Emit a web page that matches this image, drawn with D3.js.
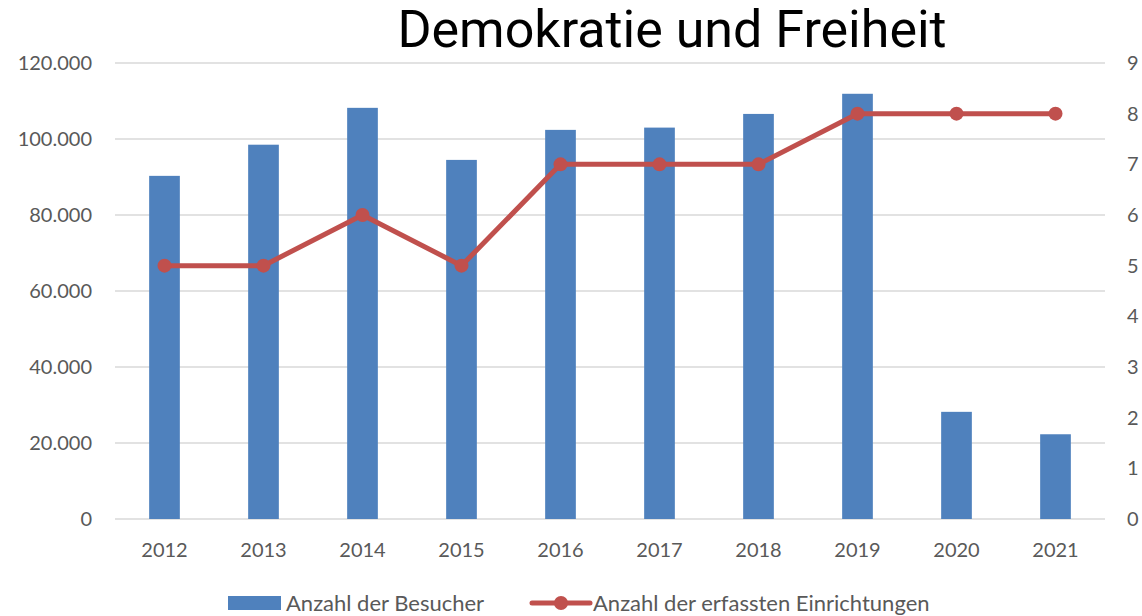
<!DOCTYPE html>
<html>
<head>
<meta charset="utf-8">
<script src="https://cdn.jsdelivr.net/npm/d3@7"></script>
<style>
  body { margin: 0; background: white; }
  svg { display: block; }
</style>
</head>
<body>
<main></main>
<script>
const years = ["2012", "2013", "2014", "2015", "2016", "2017", "2018", "2019", "2020", "2021"]
const visitors = [90300, 98500, 108200, 94500, 102400, 103000, 106600, 111900, 28200, 22300]
const facilities = [5, 5, 6, 5, 7, 7, 7, 8, 8, 8]
const leftTicks = [0, 20000, 40000, 60000, 80000, 100000, 120000]
const rightTicks = [0, 1, 2, 3, 4, 5, 6, 7, 8, 9]

const svgWidth = 1142
const svgHeight = 616

const plotLeft = 115
const plotRight = 1105
const plotTop = 63
const plotBottom = 519

const barColor = "#4f81bd"
const lineColor = "#c0504d"
const gridColor = "#d9d9d9"
const textColor = "#595959"
const font = "Lato, sans-serif"
const fontSize = "20px"

const de = d3.formatLocale({ decimal: ",", thousands: ".", grouping: [3], currency: ["", " €"] })

let svg = d3.select("main")
    .append("svg")
    .attr("width", svgWidth)
    .attr("height", svgHeight)

let xScale = d3.scaleBand()
    .domain(years)
    .range([plotLeft, plotRight])
    .paddingInner(0.69)
    .paddingOuter(0.345)

let yLeft = d3.scaleLinear()
    .domain([0, 120000])
    .range([plotBottom, plotTop])

let yRight = d3.scaleLinear()
    .domain([0, 9])
    .range([plotBottom, plotTop])

// gridlines
svg.append("g")
    .selectAll("line")
    .data(leftTicks)
    .enter()
    .append("line")
    .attr("x1", plotLeft)
    .attr("x2", plotRight)
    .attr("y1", d => yLeft(d))
    .attr("y2", d => yLeft(d))
    .attr("stroke", gridColor)
    .attr("stroke-width", 1.5)

// left axis
let leftAxis = d3.axisLeft(yLeft)
    .tickValues(leftTicks)
    .tickSize(0)
    .tickPadding(23)
    .tickFormat(d => de.format(",")(d))

let yAxisL = svg.append("g")
    .attr("transform", `translate(${plotLeft}, 0)`)
    .call(leftAxis)
yAxisL.select("path").remove()
yAxisL.selectAll("text")
    .style("font-family", font)
    .style("font-size", fontSize)
    .attr("fill", textColor)

// right axis
let rightAxis = d3.axisRight(yRight)
    .tickValues(rightTicks)
    .tickSize(0)
    .tickPadding(22)

let yAxisR = svg.append("g")
    .attr("transform", `translate(${plotRight}, 0)`)
    .call(rightAxis)
yAxisR.select("path").remove()
yAxisR.selectAll("text")
    .style("font-family", font)
    .style("font-size", fontSize)
    .attr("fill", textColor)

// bottom axis
let bottomAxis = d3.axisBottom(xScale)
    .tickSize(0)
    .tickPadding(24)

let xAxis = svg.append("g")
    .attr("transform", `translate(0, ${plotBottom})`)
    .call(bottomAxis)
xAxis.select("path").remove()
xAxis.selectAll("text")
    .style("font-family", font)
    .style("font-size", fontSize)
    .attr("fill", textColor)

// bars
svg.append("g")
    .selectAll("rect")
    .data(visitors)
    .enter()
    .append("rect")
    .attr("x", (d, i) => xScale(years[i]))
    .attr("y", d => yLeft(d))
    .attr("width", xScale.bandwidth())
    .attr("height", d => plotBottom - yLeft(d))
    .attr("fill", barColor)

// line
let cx = (d, i) => xScale(years[i]) + xScale.bandwidth() / 2
let line = d3.line()
    .x(cx)
    .y(d => yRight(d))

svg.append("path")
    .datum(facilities)
    .attr("d", line)
    .attr("fill", "none")
    .attr("stroke", lineColor)
    .attr("stroke-width", 5)
    .attr("stroke-linejoin", "round")

svg.append("g")
    .selectAll("circle")
    .data(facilities)
    .enter()
    .append("circle")
    .attr("cx", cx)
    .attr("cy", d => yRight(d))
    .attr("r", 7)
    .attr("fill", lineColor)

// title
svg.append("text")
    .attr("x", 672)
    .attr("y", 47)
    .attr("text-anchor", "middle")
    .style("font-family", "Roboto, sans-serif")
    .style("font-size", "52px")
    .attr("fill", "black")
    .text("Demokratie und Freiheit")

// legend
svg.append("rect")
    .attr("x", 228)
    .attr("y", 596)
    .attr("width", 53)
    .attr("height", 14)
    .attr("fill", barColor)
svg.append("text")
    .attr("x", 286)
    .attr("y", 611)
    .style("font-family", font)
    .style("font-size", "22px")
    .attr("fill", textColor)
    .text("Anzahl der Besucher")

svg.append("line")
    .attr("x1", 532)
    .attr("x2", 590)
    .attr("y1", 603)
    .attr("y2", 603)
    .attr("stroke", lineColor)
    .attr("stroke-width", 5)
    .attr("stroke-linecap", "round")
svg.append("circle")
    .attr("cx", 561)
    .attr("cy", 603)
    .attr("r", 7)
    .attr("fill", lineColor)
svg.append("text")
    .attr("x", 593)
    .attr("y", 611)
    .style("font-family", font)
    .style("font-size", "22px")
    .attr("fill", textColor)
    .text("Anzahl der erfassten Einrichtungen")
</script>
</body>
</html>
